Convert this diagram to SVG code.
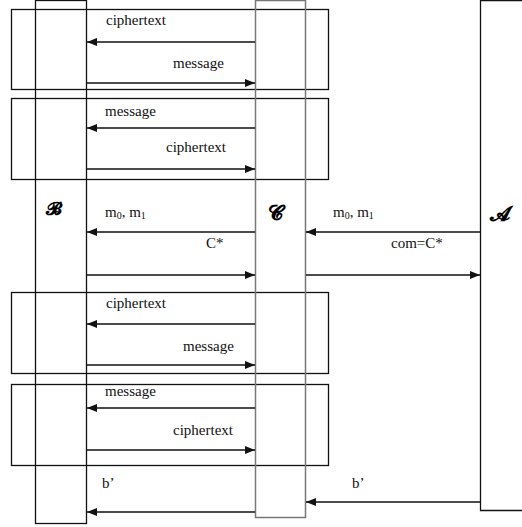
<svg xmlns="http://www.w3.org/2000/svg" width="522" height="527" viewBox="0 0 522 527">
<style>
.col{fill:none;stroke:#111;stroke-width:1.3}
.colc{fill:none;stroke:#777;stroke-width:1.5}
.box{fill:none;stroke:#111;stroke-width:1.3}
.msg{stroke:#111;stroke-width:1.5;fill:none}
.t{font-family:"Liberation Serif","Times New Roman",serif;font-size:15px;fill:#111}
.lbl{font-family:"DejaVu Serif","DejaVu Sans","Liberation Serif",serif;font-weight:bold;fill:#000}
</style>
<defs>
<marker id="ah" viewBox="0 0 10 8" refX="10" refY="4" markerWidth="10" markerHeight="8" markerUnits="userSpaceOnUse" orient="auto">
<path d="M0,0 L10,4 L0,8 z" fill="#111"/>
</marker>
</defs>
<rect width="522" height="527" fill="#fff"/>
<g id="boxes">
<rect class="box" x="11.5" y="9.5" width="317" height="80"/>
<rect class="box" x="11.5" y="98.5" width="317" height="81"/>
<rect class="box" x="11.5" y="292.5" width="317" height="81"/>
<rect class="box" x="11.5" y="384.5" width="317" height="81"/>
</g>
<g id="B">
<rect class="col" x="35.5" y="0.5" width="51" height="523"/>
<text class="lbl" x="46" y="215" font-size="18">𝓑</text>
</g>
<g id="C">
<rect class="colc" x="255.5" y="0.5" width="50" height="517"/>
<text class="lbl" x="268" y="220" font-size="21">𝓒</text>
</g>
<g id="A">
<path class="col" d="M523,0.5 H480.5 V510.5 H523"/>
<text class="lbl" x="490" y="221" font-size="21">𝓐</text>
</g>
<g id="connectors">
<line class="msg" x1="255" y1="42" x2="87" y2="42" marker-end="url(#ah)"/>
<line class="msg" x1="87" y1="83" x2="255" y2="83" marker-end="url(#ah)"/>
<line class="msg" x1="255" y1="128" x2="87" y2="128" marker-end="url(#ah)"/>
<line class="msg" x1="87" y1="169" x2="255" y2="169" marker-end="url(#ah)"/>
<line class="msg" x1="255" y1="232" x2="87" y2="232" marker-end="url(#ah)"/>
<line class="msg" x1="87" y1="275" x2="255" y2="275" marker-end="url(#ah)"/>
<line class="msg" x1="480" y1="232" x2="306" y2="232" marker-end="url(#ah)"/>
<line class="msg" x1="306" y1="275" x2="480" y2="275" marker-end="url(#ah)"/>
<line class="msg" x1="255" y1="324" x2="87" y2="324" marker-end="url(#ah)"/>
<line class="msg" x1="87" y1="365" x2="255" y2="365" marker-end="url(#ah)"/>
<line class="msg" x1="255" y1="408" x2="87" y2="408" marker-end="url(#ah)"/>
<line class="msg" x1="87" y1="450" x2="255" y2="450" marker-end="url(#ah)"/>
<line class="msg" x1="480" y1="502" x2="306" y2="502" marker-end="url(#ah)"/>
<line class="msg" x1="255" y1="512" x2="87" y2="512" marker-end="url(#ah)"/>
<text class="t" x="106" y="25">ciphertext</text>
<text class="t" x="173" y="68">message</text>
<text class="t" x="105" y="116">message</text>
<text class="t" x="166" y="152">ciphertext</text>
<text class="t" x="105" y="217">m<tspan font-size="10" dy="2">0</tspan><tspan dy="-2">, m</tspan><tspan font-size="10" dy="2">1</tspan></text>
<text class="t" x="206" y="248">C*</text>
<text class="t" x="333" y="217">m<tspan font-size="10" dy="2">0</tspan><tspan dy="-2">, m</tspan><tspan font-size="10" dy="2">1</tspan></text>
<text class="t" x="391" y="248">com=C*</text>
<text class="t" x="106" y="308">ciphertext</text>
<text class="t" x="183" y="351">message</text>
<text class="t" x="105" y="396">message</text>
<text class="t" x="173" y="435">ciphertext</text>
<text class="t" x="102" y="488">b’</text>
<text class="t" x="352" y="488">b’</text>
</g>
</svg>
